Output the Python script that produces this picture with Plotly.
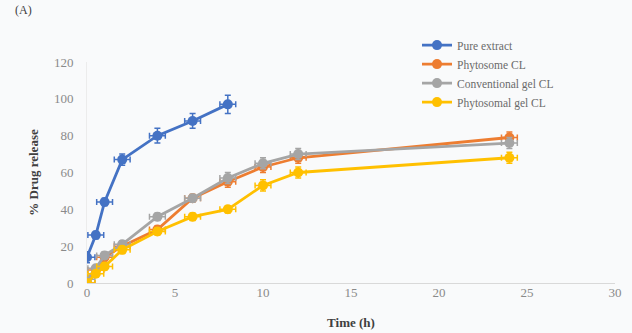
import plotly.graph_objects as go

time_blue = [0, 0.5, 1, 2, 4, 6, 8]
pure_extract = [14, 26, 44, 67, 80, 88, 97]
pure_err = [3, 2, 2, 3, 4, 4, 5]

time_all = [0, 0.5, 1, 2, 4, 6, 8, 10, 12, 24]
phytosome_cl = [0, 7, 14, 20, 29, 46, 55, 63, 68, 79]
phytosome_err = [1, 1, 2, 2, 2, 2, 3, 3, 3, 3]
conventional_gel = [2, 8, 15, 21, 36, 46, 57, 65, 70, 76]
conventional_err = [1, 1, 2, 2, 2, 2, 3, 3, 3, 3]
phytosomal_gel = [0, 5, 9, 18, 28, 36, 40, 53, 60, 68]
phytosomal_err = [1, 1, 2, 2, 2, 2, 2, 3, 3, 3]

x_ticks = [0, 5, 10, 15, 20, 25, 30]
y_ticks = [0, 20, 40, 60, 80, 100, 120]

series = [
    ("Pure extract", time_blue, pure_extract, pure_err, "#4472C4"),
    ("Phytosome CL", time_all, phytosome_cl, phytosome_err, "#ED7D31"),
    ("Conventional gel CL", time_all, conventional_gel, conventional_err, "#A5A5A5"),
    ("Phytosomal gel CL", time_all, phytosomal_gel, phytosomal_err, "#FFC000"),
]

fig = go.Figure()
for name, xs, ys, errs, col in series:
    fig.add_trace(go.Scatter(
        x=xs, y=ys, name=name, mode="lines+markers",
        line=dict(color=col, width=2.8),
        marker=dict(color=col, size=10, symbol="circle"),
        error_y=dict(type="data", array=errs, color=col, thickness=1.5, width=3),
        error_x=dict(type="constant", value=0.45, color=col, thickness=1.5, width=3),
    ))

fig.update_layout(
    width=632, height=333,
    margin=dict(l=87, r=17, t=62, b=50),
    paper_bgcolor="#f9fafb", plot_bgcolor="#f9fafb",
    font=dict(family="Liberation Serif", size=13, color="#8a8a8a"),
    showlegend=True,
    legend=dict(x=0.625, y=1.142, xanchor="left", yanchor="top",
                bgcolor="rgba(0,0,0,0)", font=dict(size=11.5, color="#6a6a6a"),
                tracegroupgap=0, itemwidth=30),
    xaxis=dict(range=[0, 30], tickvals=x_ticks, showgrid=False, zeroline=False,
               showline=False, ticks="", automargin=False,
               title=dict(text="<b>Time (h)</b>", font=dict(size=13, color="#404040"), standoff=18)),
    yaxis=dict(range=[0, 120], tickvals=y_ticks, showgrid=False, zeroline=True,
               zerolinecolor="#d9d9d9", zerolinewidth=1.2, automargin=False,
               showline=True, linecolor="#ececec", ticks="", ticklabelstandoff=10,
               title=dict(text="<b>% Drug release</b>", font=dict(size=13, color="#404040"), standoff=12)),
)
fig.add_annotation(text="(A)", xref="paper", yref="paper", x=-0.14, y=1.275,
                   xanchor="left", yanchor="top", showarrow=False,
                   font=dict(size=12, color="#404040"))
fig.write_html("out.html", config={"displayModeBar": False},
               post_script="document.body.style.margin='0';document.body.style.padding='0';")
